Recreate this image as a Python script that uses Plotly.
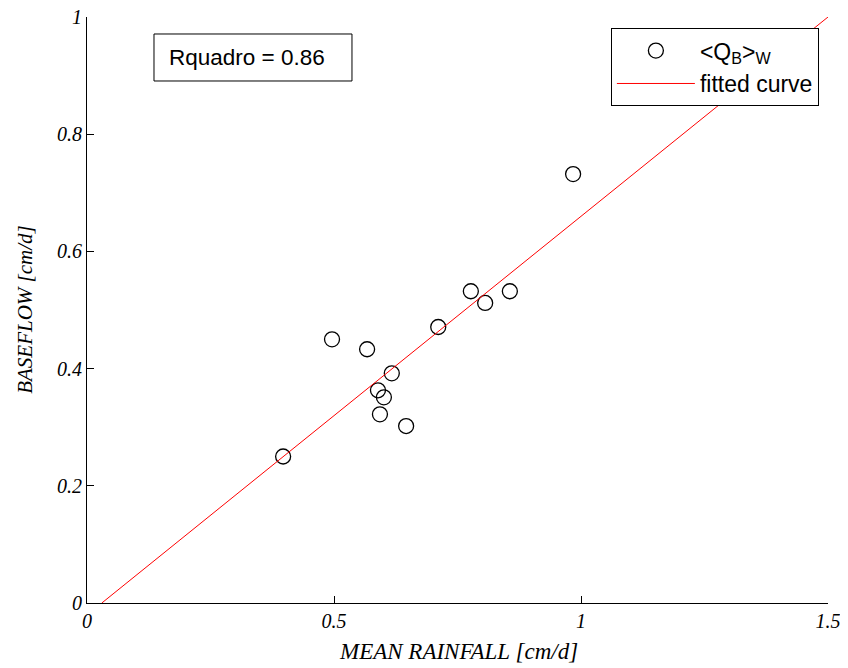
import plotly.graph_objects as go

rain = [0.397, 0.496, 0.567, 0.617, 0.589, 0.601, 0.593, 0.646, 0.711, 0.777, 0.806, 0.856, 0.984]
baseflow = [0.25, 0.45, 0.433, 0.392, 0.363, 0.351, 0.322, 0.302, 0.471, 0.532, 0.512, 0.532, 0.732]
fit_x = [0.03, 1.5]
fit_y = [0.0, 1.0]
x_ticks = [0, 0.5, 1, 1.5]
x_tick_text = ["0", "0.5", "1", "1.5"]
y_ticks = [0, 0.2, 0.4, 0.6, 0.8, 1]
y_tick_text = ["0", "0.2", "0.4", "0.6", "0.8", "1"]

fig = go.Figure()
fig.add_trace(go.Scatter(
    x=rain, y=baseflow, mode="markers", name="<Q<sub>B</sub>><sub>W</sub>",
    marker=dict(symbol="circle-open", size=15, color="black", line=dict(width=1.3, color="black")),
))
fig.add_trace(go.Scatter(
    x=fit_x, y=fit_y, mode="lines", name="fitted curve",
    line=dict(color="red", width=1),
))

tick_font = dict(family="Liberation Serif", size=20, color="black")
fig.update_layout(
    width=840, height=660,
    margin=dict(l=79, r=20, t=9, b=65),
    plot_bgcolor="white", paper_bgcolor="white",
    showlegend=True,
    legend=dict(
        x=0.707, y=0.981, xanchor="left", yanchor="top",
        bordercolor="black", borderwidth=1, bgcolor="white",
        font=dict(family="Liberation Sans", size=23, color="black"),
        itemwidth=78, tracegroupgap=2,
    ),
    xaxis=dict(
        range=[0, 1.5], tickvals=x_ticks, ticktext=["<i>%s</i>" % t for t in x_tick_text],
        showgrid=False, zeroline=False, showline=True, linecolor="black", linewidth=1,
        ticks="inside", ticklen=7, tickcolor="black", tickfont=tick_font,
        automargin=False, ticklabeloverflow="allow",
    ),
    yaxis=dict(
        range=[0, 1], tickvals=y_ticks, ticktext=["<i>%s</i>" % t for t in y_tick_text],
        showgrid=False, zeroline=False, showline=True, linecolor="black", linewidth=1,
        ticks="inside", ticklen=7, tickcolor="black", tickfont=tick_font,
        automargin=False, ticklabeloverflow="allow",
    ),
)
# axis titles
fig.add_annotation(
    x=0.502, y=-0.0836, xref="paper", yref="paper", xanchor="center", yanchor="middle",
    text="<i>MEAN RAINFALL [cm/d]</i>", showarrow=False,
    font=dict(family="Liberation Serif", size=23, color="black"),
)
fig.add_annotation(
    x=-0.0837, y=0.502, xref="paper", yref="paper", xanchor="center", yanchor="middle",
    text="<i>BASEFLOW [cm/d]</i>", showarrow=False, textangle=-90,
    font=dict(family="Liberation Serif", size=21, color="black"),
)
# R-squared box
fig.add_shape(
    type="rect", xref="paper", yref="paper",
    x0=0.0904, x1=0.3576, y0=0.8908, y1=0.971,
    line=dict(color="black", width=1), fillcolor="white", layer="above",
)
fig.add_annotation(
    x=0.108, y=0.931, xref="paper", yref="paper", xanchor="left", yanchor="middle",
    text="Rquadro = 0.86", showarrow=False,
    font=dict(family="Liberation Sans", size=22.5, color="black"),
)
fig.write_html("out.html")
